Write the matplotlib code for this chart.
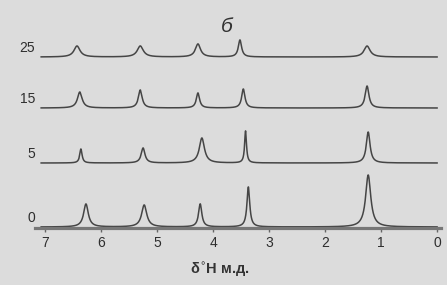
import numpy as np
import matplotlib
matplotlib.use('Agg')
import matplotlib.pyplot as plt

# stacked 1H NMR spectra, labels = time/conc. of each trace
labels = ['0', '5', '15', '25']
offsets = [1, 65, 120, 171]

# peak positions (ppm), heights and half-widths for each trace
pos = [[6.27, 5.23, 4.23, 3.37, 1.23],
       [6.36, 5.25, 4.20, 3.42, 1.23],
       [6.38, 5.30, 4.27, 3.46, 1.25],
       [6.43, 5.30, 4.27, 3.52, 1.25]]
height = [[23, 22, 23, 40, 52],
          [14, 15, 25, 32, 31],
          [16, 18, 15, 19, 22],
          [11, 11, 13, 17, 11]]
width = [[0.05, 0.055, 0.035, 0.03, 0.055],
         [0.025, 0.04, 0.055, 0.02, 0.04],
         [0.05, 0.04, 0.035, 0.035, 0.04],
         [0.065, 0.065, 0.055, 0.035, 0.065]]

xticks = [7, 6, 5, 4, 3, 2, 1, 0]

bg = '#dcdcdc'
fig = plt.figure(figsize=(4.47, 2.85), dpi=100, facecolor=bg)
ax = fig.add_axes([35/447, 57/285, 406/447, 228/285], facecolor=bg)

ppm = np.linspace(0.0, 7.07, 3000)
for i in range(len(labels)):
    y = np.zeros_like(ppm)
    for p, h, w in zip(pos[i], height[i], width[i]):
        y += h / (1 + ((ppm - p) / w) ** 2)
    ax.plot(ppm, y + offsets[i], color='#454545', lw=1.1)
    ax.text(7.18, offsets[i] + 2, labels[i], ha='right', va='bottom',
            fontsize=10, color='#2e2e2e', family='Liberation Sans')

ax.set_xlim(7.18, -0.07)
ax.set_ylim(0, 228)
for s in ['top', 'right', 'left']:
    ax.spines[s].set_visible(False)
ax.spines['bottom'].set_color('#777777')
ax.spines['bottom'].set_linewidth(2.3)
ax.set_yticks([])
ax.set_xticks(xticks)
ax.set_xticklabels([str(t) for t in xticks], fontsize=10,
                   color='#2e2e2e', family='Liberation Sans')
ax.tick_params(axis='x', direction='out', length=3, width=1,
               color='#666666', pad=3)

fig.text(227/447, 1 - 26/285, 'б', fontsize=15, style='italic',
         ha='center', va='center', color='#333333', family='Liberation Sans')
fig.text(220/447, 1 - 270/285, r'δ$^{\circ}$H м.д.', fontsize=10.5,
         fontweight='bold', ha='center', va='center', color='#333333',
         family='Liberation Sans')

fig.savefig('out.png', dpi=100, facecolor=bg)
